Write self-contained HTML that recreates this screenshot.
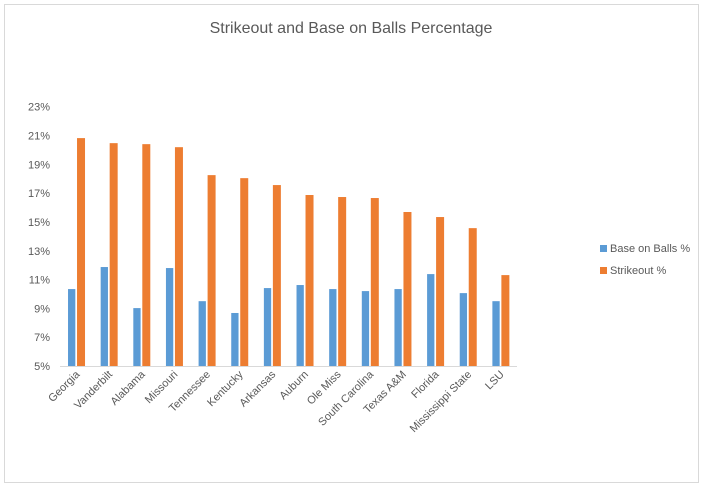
<!DOCTYPE html>
<html><head><meta charset="utf-8"><style>
body{margin:0;background:#fff;}
svg{display:block;font-family:"Liberation Sans",sans-serif;}
</style></head><body>
<svg width="704" height="488" viewBox="0 0 704 488">
<rect x="4.5" y="4.5" width="694" height="478" fill="#fff" stroke="#d9d9d9"/>
<text x="351" y="33" text-anchor="middle" font-size="16" fill="#595959">Strikeout and Base on Balls Percentage</text>
<g id="yaxis"></g>
<g id="bars"></g>
<g id="xaxis"></g>
<g>
<g><rect x="600" y="245" width="7" height="7" fill="#5b9bd5"/><text x="610" y="252" font-size="11" fill="#595959">Base on Balls %</text></g>
<g><rect x="600" y="267" width="7" height="7" fill="#ed7d31"/><text x="610" y="274" font-size="11" fill="#595959">Strikeout %</text></g>
</g>
</svg>
<script>
const categories=["Georgia","Vanderbilt","Alabama","Missouri","Tennessee","Kentucky","Arkansas","Auburn","Ole Miss","South Carolina","Texas A&M","Florida","Mississippi State","LSU"];
const bbPct=[10.34,11.87,9.02,11.8,9.5,8.68,10.41,10.62,10.34,10.2,10.34,11.38,10.06,9.5];
const kPct=[20.82,20.47,20.4,20.19,18.25,18.04,17.56,16.87,16.73,16.66,15.69,15.34,14.57,11.31];
const yTicks=[5,7,9,11,13,15,17,19,21,23];
const NS="http://www.w3.org/2000/svg";
const x0=60,x1=517,yMin=5,yMax=23,yB=366,yT=106.7;
const bw=(x1-x0)/categories.length;
function y(v){return yB-(v-yMin)/(yMax-yMin)*(yB-yT);}
function xc(i){return x0+bw*(i+0.5);}
function mk(tag,attrs,parent){const e=document.createElementNS(NS,tag);for(const k in attrs)e.setAttribute(k,attrs[k]);parent.appendChild(e);return e;}
const ya=document.getElementById('yaxis');
yTicks.forEach(t=>{const tx=mk('text',{x:50,y:y(t)+4,'text-anchor':'end','font-size':'11',fill:'#595959'},ya);


tx.textContent=t+'%';});
const bars=document.getElementById('bars');
categories.forEach((c,i)=>{
const b=mk('rect',{x:xc(i)-8.3,y:y(bbPct[i]),width:7.3,height:yB-y(bbPct[i]),fill:'#5b9bd5'},bars);


const o=mk('rect',{x:xc(i)+0.7,y:y(kPct[i]),width:8,height:yB-y(kPct[i]),fill:'#ed7d31'},bars);


});
const xa=document.getElementById('xaxis');
const ln=mk('line',{x1:x0,x2:x1,y1:yB+0.5,y2:yB+0.5,stroke:'#d9d9d9','stroke-width':1},xa);


categories.forEach((c,i)=>{const cx=xc(i)+4,cy=375;
const t=mk('text',{x:cx,y:cy,'text-anchor':'end','font-size':'11',fill:'#595959',transform:`rotate(-45 ${cx} ${cy})`},xa);


t.textContent=c;});
</script>
</body></html>
